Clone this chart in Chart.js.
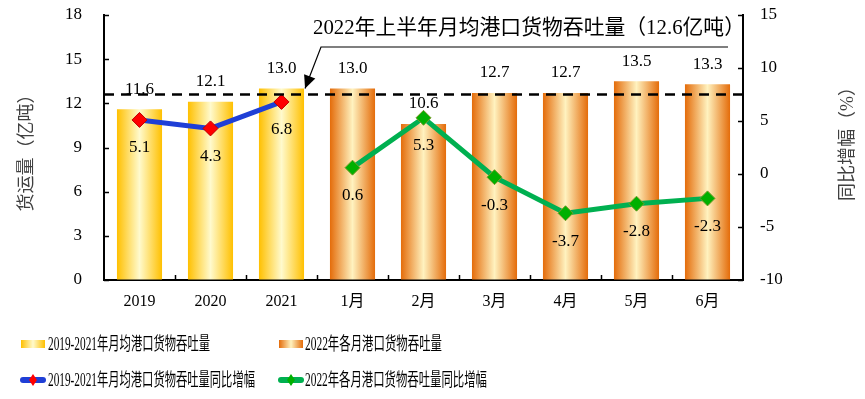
<!DOCTYPE html>
<html>
<head>
<meta charset="utf-8">
<script src="https://cdn.jsdelivr.net/npm/chart.js@4/dist/chart.umd.min.js"></script>
<style>
  html,body{margin:0;padding:0;background:#fff;}
  #wrap{position:relative;width:865px;height:399px;overflow:hidden;}
  #c{position:absolute;left:0;top:0;}
  .lg{position:absolute;font:18px "Liberation Serif","Noto Sans CJK SC",serif;color:#000;white-space:nowrap;line-height:20px;transform-origin:0 50%;}
  .sw{position:absolute;}
</style>
</head>
<body>
<div id="wrap">
  <canvas id="c" width="865" height="399"></canvas>
  <div class="sw" style="left:21px;top:340px;width:24px;height:8px;background:linear-gradient(90deg,#FFC000,#FFFACD 50%,#FFC000);"></div>
  <div class="lg" id="l1" data-w="162" style="left:48px;top:334px;">2019-2021年月均港口货物吞吐量</div>
  <div class="sw" style="left:279px;top:340px;width:24px;height:8px;background:linear-gradient(90deg,#E46C0A,#FFF2BF 50%,#E46C0A);"></div>
  <div class="lg" id="l2" data-w="137" style="left:305px;top:334px;">2022年各月港口货物吞吐量</div>
  <div class="sw" style="left:20px;top:377px;width:26px;height:6px;border-radius:3px;background:#1F3FD6;"></div>
  <div class="sw" style="left:29px;top:374px;width:8px;height:12px;background:#FF0000;clip-path:polygon(50% 0,100% 50%,50% 100%,0 50%);"></div>
  <div class="lg" id="l3" data-w="207" style="left:48px;top:370px;">2019-2021年月均港口货物吞吐量同比增幅</div>
  <div class="sw" style="left:278px;top:377px;width:26px;height:6px;border-radius:3px;background:#00B050;"></div>
  <div class="sw" style="left:287px;top:374px;width:8px;height:12px;background:#00B000;clip-path:polygon(50% 0,100% 50%,50% 100%,0 50%);"></div>
  <div class="lg" id="l4" data-w="182" style="left:305px;top:370px;">2022年各月港口货物吞吐量同比增幅</div>
</div>
<script>
// ---- data ----
const categories   = ['2019','2020','2021','1月','2月','3月','4月','5月','6月'];
const avgVolume    = [11.6, 12.1, 13.0, null, null, null, null, null, null];
const monthVolume  = [null, null, null, 13.0, 10.6, 12.7, 12.7, 13.5, 13.3];
const avgGrowth    = [5.1, 4.3, 6.8, null, null, null, null, null, null];
const monthGrowth  = [null, null, null, 0.6, 5.3, -0.3, -3.7, -2.8, -2.3];
const halfYearAvg  = 12.6;
const leftTicks    = [0, 3, 6, 9, 12, 15, 18];
const rightTicks   = [-10, -5, 0, 5, 10, 15];
const noteText     = '2022年上半年月均港口货物吞吐量（12.6亿吨）';
const leftTitle    = '货运量（亿吨）';
const rightTitle   = '同比增幅（%）';

// fit legend text widths
document.querySelectorAll('.lg').forEach(el => {
  const w = el.getBoundingClientRect().width;
  const t = +el.dataset.w;
  el.style.transform = 'scaleX(' + (t / w) + ')';
});

const FONT = '"Liberation Serif","Noto Sans CJK SC",serif';
Chart.defaults.font.family = FONT;
Chart.defaults.color = '#000';
const BAR_PCT = 0.635;

function barGrad(edge, mid) {
  return (ctx) => {
    const chart = ctx.chart;
    const xs = chart.scales && chart.scales.x;
    if (!xs || ctx.type !== 'data') return edge;
    const cx = xs.getPixelForValue(ctx.dataIndex);
    const half = xs.width / categories.length * BAR_PCT / 2;
    if (!isFinite(cx) || !isFinite(half) || half <= 0) return edge;
    const g = chart.ctx.createLinearGradient(cx - half, 0, cx + half, 0);
    g.addColorStop(0, edge);
    g.addColorStop(0.5, mid);
    g.addColorStop(1, edge);
    return g;
  };
}

const decor = {
  id: 'decor',
  afterDatasetsDraw(chart) {
    const ctx = chart.ctx;
    ctx.save();
    ctx.fillStyle = '#000';
    ctx.font = '17px ' + FONT;
    ctx.textAlign = 'center';
    ctx.textBaseline = 'middle';
    chart.data.datasets.forEach((ds, di) => {
      const meta = chart.getDatasetMeta(di);
      meta.data.forEach((el, i) => {
        const v = ds.data[i];
        if (v === null || v === undefined) return;
        if (ds.type === 'bar') ctx.fillText(v.toFixed(1), el.x, el.y - 20);
        else ctx.fillText(v.toFixed(1), el.x, el.y + 28);
      });
    });
    ctx.restore();
  },
  afterDraw(chart) {
    const ctx = chart.ctx;
    const xs = chart.scales.x, y = chart.scales.y, y1 = chart.scales.y1;
    const ca = chart.chartArea;
    ctx.save();
    // inward tick marks
    ctx.strokeStyle = '#000';
    ctx.lineWidth = 1.5;
    ctx.beginPath();
    const cw = xs.width / categories.length;
    for (let i = 1; i < categories.length; i++) {
      const px = Math.round(xs.left + i * cw) + 0.5;
      ctx.moveTo(px, ca.bottom); ctx.lineTo(px, ca.bottom - 5);
    }
    leftTicks.forEach(v => {
      const py = Math.round(y.getPixelForValue(v)) + 0.5;
      ctx.moveTo(ca.left, py); ctx.lineTo(ca.left + 5, py);
    });
    rightTicks.forEach(v => {
      const py = Math.round(y1.getPixelForValue(v)) + 0.5;
      ctx.moveTo(ca.right, py); ctx.lineTo(ca.right - 5, py);
    });
    ctx.stroke();

    // dashed average line
    const ay = y.getPixelForValue(halfYearAvg);
    ctx.beginPath();
    ctx.setLineDash([10, 7]);
    ctx.lineWidth = 2.6;
    ctx.moveTo(ca.left, ay); ctx.lineTo(ca.right, ay);
    ctx.stroke();
    ctx.setLineDash([]);

    // annotation
    ctx.fillStyle = '#000';
    ctx.font = '21px ' + FONT;
    ctx.textAlign = 'left';
    ctx.textBaseline = 'middle';
    ctx.fillText(noteText, 313, 28, 432);
    const sx = 321, sy = 47;
    const tipX = xs.getPixelForValue(2) + cw * BAR_PCT / 2 + 1;
    const tipY = ay - 6;
    ctx.lineWidth = 1.2;
    ctx.beginPath();
    ctx.moveTo(728, sy); ctx.lineTo(sx, sy); ctx.lineTo(tipX, tipY);
    ctx.stroke();
    const ang = Math.atan2(tipY - sy, tipX - sx);
    const L = 13, W = 6;
    ctx.beginPath();
    ctx.moveTo(tipX, tipY);
    ctx.lineTo(tipX - L * Math.cos(ang) + W * Math.sin(ang), tipY - L * Math.sin(ang) - W * Math.cos(ang));
    ctx.lineTo(tipX - L * Math.cos(ang) - W * Math.sin(ang), tipY - L * Math.sin(ang) + W * Math.cos(ang));
    ctx.closePath();
    ctx.fill();

    // axis titles
    ctx.fillStyle = '#404040';
    ctx.font = '18px ' + FONT;
    ctx.textAlign = 'center';
    ctx.save();
    ctx.translate(27, (ca.top + ca.bottom) / 2 + 1);
    ctx.rotate(-Math.PI / 2);
    ctx.fillText(leftTitle, 0, 0);
    ctx.restore();
    ctx.translate(848, (ca.top + ca.bottom) / 2 - 8);
    ctx.rotate(-Math.PI / 2);
    ctx.fillText(rightTitle, 0, 0);
    ctx.restore();
  }
};

new Chart(document.getElementById('c'), {
  data: {
    labels: categories,
    datasets: [
      { type: 'line', label: '2019-2021年月均港口货物吞吐量同比增幅', data: avgGrowth, yAxisID: 'y1',
        borderColor: '#1F3FD6', borderWidth: 5, pointStyle: 'rectRot', pointRadius: 7.5,
        pointBackgroundColor: '#FF0000', pointBorderColor: '#C00000', pointBorderWidth: 1, order: 0, spanGaps: false },
      { type: 'line', label: '2022年各月港口货物吞吐量同比增幅', data: monthGrowth, yAxisID: 'y1',
        borderColor: '#00B050', borderWidth: 5, pointStyle: 'rectRot', pointRadius: 7.5,
        pointBackgroundColor: '#00B000', pointBorderColor: '#7A9A2A', pointBorderWidth: 1, order: 0, spanGaps: false },
      { type: 'bar', label: '2019-2021年月均港口货物吞吐量', data: avgVolume, yAxisID: 'y', grouped: false,
        backgroundColor: barGrad('#FFC000', '#FFFACD'), barPercentage: BAR_PCT, categoryPercentage: 1, order: 1 },
      { type: 'bar', label: '2022年各月港口货物吞吐量', data: monthVolume, yAxisID: 'y', grouped: false,
        backgroundColor: barGrad('#E46C0A', '#FFF2BF'), barPercentage: BAR_PCT, categoryPercentage: 1, order: 1 }
    ]
  },
  options: {
    responsive: false,
    devicePixelRatio: 1,
    animation: false,
    layout: { padding: { top: 15, bottom: 79, left: 0, right: 0 } },
    plugins: { legend: { display: false }, tooltip: { enabled: false } },
    scales: {
      x: {
        grid: { drawOnChartArea: false, drawTicks: false },
        border: { color: '#000', width: 2 },
        ticks: { font: { size: 16 }, padding: 12, color: '#000', maxRotation: 0 },
        afterFit(s) { s.height = 40; s.paddingLeft = 0; s.paddingRight = 0; }
      },
      y: {
        position: 'left', min: leftTicks[0], max: leftTicks[leftTicks.length - 1],
        grid: { drawOnChartArea: false, drawTicks: false },
        border: { color: '#000', width: 2 },
        ticks: { stepSize: 3, font: { size: 17 }, padding: 22, color: '#000' },
        afterFit(s) { s.width = 104; s.paddingTop = 0; s.paddingBottom = 0; }
      },
      y1: {
        position: 'right', min: rightTicks[0], max: rightTicks[rightTicks.length - 1],
        grid: { drawOnChartArea: false, drawTicks: false },
        border: { color: '#000', width: 2 },
        ticks: { stepSize: 5, font: { size: 17 }, padding: 17, color: '#000' },
        afterFit(s) { s.width = 122; s.paddingTop = 0; s.paddingBottom = 0; }
      }
    }
  },
  plugins: [decor]
});
</script>
</body>
</html>
